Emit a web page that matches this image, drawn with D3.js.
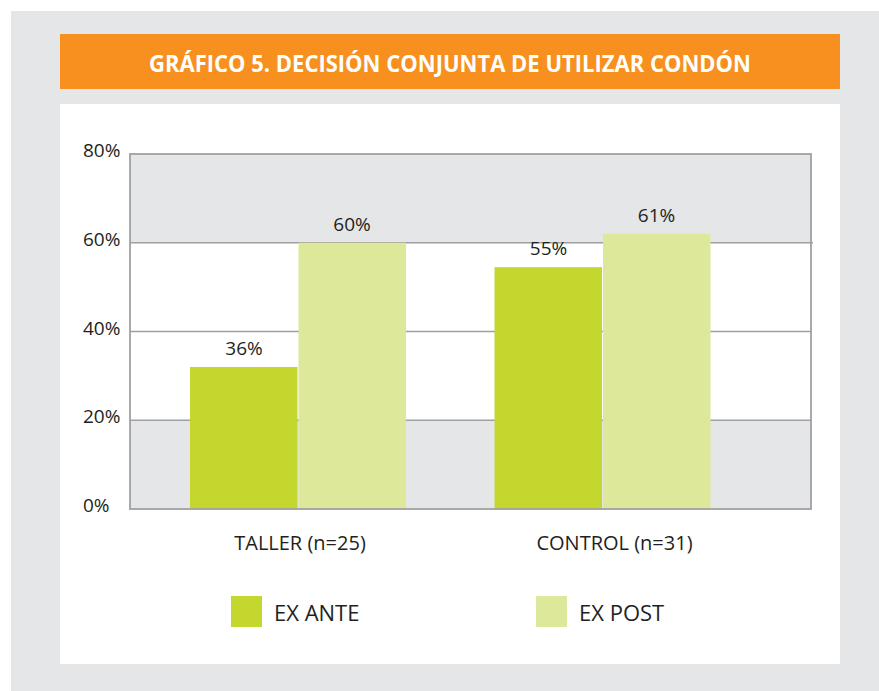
<!DOCTYPE html>
<html><head><meta charset="utf-8">
<script src="https://cdn.jsdelivr.net/npm/d3@7"></script>
<style>body{margin:0;background:#fff}svg{display:block}text{font-family:"Open Sans",sans-serif;fill:#231f20}</style>
</head><body>
<script>
const title = "GRÁFICO 5. DECISIÓN CONJUNTA DE UTILIZAR CONDÓN";
const categories = ["TALLER (n=25)", "CONTROL (n=31)"];
const series = ["EX ANTE", "EX POST"];
const exAnte = [32, 54.5];
const exPost = [60, 62];
const exAnteLabels = ["36%", "55%"];
const exPostLabels = ["60%", "61%"];
const yTicks = [0, 20, 40, 60, 80];
const tickLabels = ["0%", "20%", "40%", "60%", "80%"];
const colors = ["#c3d72f", "#dde89a"];

const W = 879, H = 691;
const svg = d3.select("body").append("svg").attr("width", W).attr("height", H);
svg.append("rect").attr("x", 11).attr("y", 11).attr("width", W - 11).attr("height", H - 11).attr("fill", "#e5e6e8");
svg.append("rect").attr("x", 60).attr("y", 34).attr("width", 780).attr("height", 55).attr("fill", "#f7901e");
svg.append("text").attr("x", 450).attr("y", 63).attr("text-anchor", "middle").attr("dominant-baseline", "central")
  .attr("font-size", 23).attr("font-weight", 700).style("fill", "#fff")
  .attr("textLength", 602).attr("lengthAdjust", "spacingAndGlyphs").text(title);
svg.append("rect").attr("x", 60).attr("y", 104).attr("width", 780).attr("height", 560).attr("fill", "#fff");

const pLeft = 130, pRight = 811, pTop = 154, pBottom = 509;
const y = d3.scaleLinear().domain([0, 80]).range([pBottom, pTop]);
const x0 = d3.scalePoint().domain(categories).range([298, 602.5]);
const x1 = d3.scaleBand().domain(series).range([-108, 108]).paddingInner(0);

// bands
const bands = [[60, 80, "#e5e6e8"], [40, 60, "#fff"], [20, 40, "#fff"], [0, 20, "#e5e6e8"]];
svg.selectAll("rect.band").data(bands).join("rect").attr("class", "band")
  .attr("x", pLeft).attr("width", pRight - pLeft)
  .attr("y", d => y(d[1])).attr("height", d => y(d[0]) - y(d[1])).attr("fill", d => d[2]);

const lineColor = "#a0a0a2";
// gridlines
svg.selectAll("line.grid").data([20, 40, 60]).join("line").attr("class", "grid")
  .attr("x1", pLeft).attr("x2", d => d === 60 ? pRight + 2 : pRight)
  .attr("y1", d => y(d)).attr("y2", d => y(d))
  .attr("stroke", lineColor).attr("stroke-width", 1.6);

// bars
const rows = categories.map((c, i) => ({c, vals: [
  {s: series[0], v: exAnte[i], l: exAnteLabels[i]},
  {s: series[1], v: exPost[i], l: exPostLabels[i]}]}));
const g = svg.selectAll("g.grp").data(rows).join("g").attr("class", "grp")
  .attr("transform", d => `translate(${x0(d.c)},0)`);
g.selectAll("rect").data(d => d.vals).join("rect")
  .attr("x", d => x1(d.s) + (d.s === series[1] ? 0.5 : 0))
  .attr("width", x1.bandwidth() - 0.5)
  .attr("y", d => y(d.v)).attr("height", d => y(0) - y(d.v))
  .attr("fill", (d, i) => colors[i]);
g.selectAll("text").data(d => d.vals).join("text")
  .attr("x", d => x1(d.s) + x1.bandwidth() / 2)
  .attr("y", d => y(d.v) - 19).attr("text-anchor", "middle").attr("dominant-baseline", "central")
  .attr("font-size", 19).text(d => d.l);

// frame
svg.append("rect").attr("x", pLeft).attr("y", pTop).attr("width", pRight - pLeft).attr("height", pBottom - pTop)
  .attr("fill", "none").attr("stroke", lineColor).attr("stroke-width", 1.8);

// y labels
svg.selectAll("text.ytick").data(yTicks).join("text").attr("class", "ytick")
  .attr("x", 83).attr("y", d => y(d) - 4).attr("dominant-baseline", "central")
  .attr("font-size", 19).text((d, i) => tickLabels[i]);

// category labels
svg.selectAll("text.cat").data(categories).join("text").attr("class", "cat")
  .attr("x", (d, i) => x0(d) + (i === 1 ? 12 : 2)).attr("y", 542).attr("text-anchor", "middle")
  .attr("dominant-baseline", "central").attr("font-size", 20).text(d => d);

// legend
const legX = [231, 536];
const lg = svg.selectAll("g.leg").data(series).join("g").attr("class", "leg")
  .attr("transform", (d, i) => `translate(${legX[i]},596)`);
lg.append("rect").attr("width", 31).attr("height", 31).attr("fill", (d, i) => colors[i]);
lg.append("text").attr("x", 43).attr("y", 16).attr("dominant-baseline", "central")
  .attr("font-size", 22).text(d => d);
</script>
</body></html>
